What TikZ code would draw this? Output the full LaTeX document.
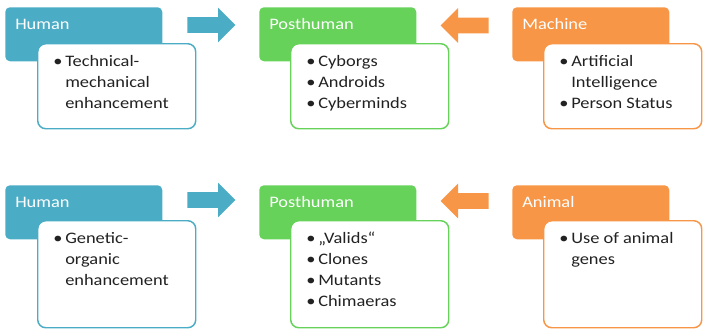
\documentclass[tikz,border=0pt]{standalone}
\usepackage{fontspec}
\setmainfont{Carlito}[FakeStretch=1.15]
\usepackage{tikz}
\usetikzlibrary{shapes.arrows,calc}
\definecolor{hblue}{HTML}{4BACC6}
\definecolor{pgreen}{HTML}{66D25A}
\definecolor{morange}{HTML}{F79646}
\definecolor{txt}{HTML}{222222}
\newcommand{\itm}{\makebox[9pt][l]{\textbullet}}
\newcommand{\blist}[1]{\begin{tabular}[t]{@{}l@{}l@{}}#1\end{tabular}}

\begin{document}
\begin{tikzpicture}[
    x=0.75pt, y=-0.75pt,
    head/.style={fill=#1, rounded corners=3.5pt, minimum width=117.75pt, minimum height=40.5pt, anchor=north west, inner sep=0},
    body/.style={draw=#1, line width=1.1pt, fill=white, rounded corners=6pt, minimum width=118.5pt, anchor=north west, inner sep=0},
    htext/.style={anchor=base west, inner sep=0, text=white, font=\fontsize{12}{14}\selectfont},
    btext/.style={anchor=base west, inner sep=0, text=txt, font=\fontsize{12}{15.75}\selectfont},
    blk/.style={single arrow, fill=#1, minimum height=36pt, inner sep=5.625pt, single arrow head extend=7.125pt, anchor=tail},
]
\useasboundingbox (0,0) rectangle (704,333);
% Top row
\node[head=hblue] (hum1) at (5,7) {};
\node[head=pgreen] (post1) at (259,7) {};
\node[head=morange] (mach1) at (512,7) {};
\node[blk=hblue] (arr1) at (187,25) {};
\node[blk=morange, shape border rotate=180] (arr2) at (489,25.5) {};
\node[body=hblue, minimum height=63.75pt] (hum1b) at (37,43) {};
\node[body=pgreen, minimum height=63.75pt] (post1b) at (290,43) {};
\node[body=morange, minimum height=63.75pt] (mach1b) at (543,43) {};
\node[htext] (hum1t) at ($(hum1.north west)+(10,22)$) {Human};
\node[htext] (post1t) at ($(post1.north west)+(10,22)$) {Posthuman};
\node[htext] (mach1t) at ($(mach1.north west)+(10,22)$) {Machine};
\node[btext] (hum1l) at ($(hum1b.north west)+(16,23)$) {\blist{\itm & Technical-\\ & mechanical\\ & enhancement}};
\node[btext] (post1l) at ($(post1b.north west)+(16,23)$) {\blist{\itm & Cyborgs\\ \itm & Androids\\ \itm & Cyberminds}};
\node[btext] (mach1l) at ($(mach1b.north west)+(16,23)$) {\blist{\itm & Artificial\\ & Intelligence\\ \itm & Person Status}};
% Bottom row
\node[head=hblue] (hum2) at (5,185) {};
\node[head=pgreen] (post2) at (259,185) {};
\node[head=morange] (anim2) at (512,185) {};
\node[blk=hblue] (arr3) at (187,200) {};
\node[blk=morange, shape border rotate=180] (arr4) at (489,201) {};
\node[body=hblue, minimum height=80.25pt] (hum2b) at (37,220) {};
\node[body=pgreen, minimum height=80.25pt] (post2b) at (290,220) {};
\node[body=morange, minimum height=80.25pt] (anim2b) at (543,220) {};
\node[htext] (hum2t) at ($(hum2.north west)+(10,22)$) {Human};
\node[htext] (post2t) at ($(post2.north west)+(10,22)$) {Posthuman};
\node[htext] (anim2t) at ($(anim2.north west)+(10,22)$) {Animal};
\node[btext] (hum2l) at ($(hum2b.north west)+(16,23)$) {\blist{\itm & Genetic-\\ & organic\\ & enhancement}};
\node[btext] (post2l) at ($(post2b.north west)+(16,23)$) {\blist{\itm & „Valids“\\ \itm & Clones\\ \itm & Mutants\\ \itm & Chimaeras}};
\node[btext] (anim2l) at ($(anim2b.north west)+(16,23)$) {\blist{\itm & Use of animal\\ & genes}};
\end{tikzpicture}
\end{document}
